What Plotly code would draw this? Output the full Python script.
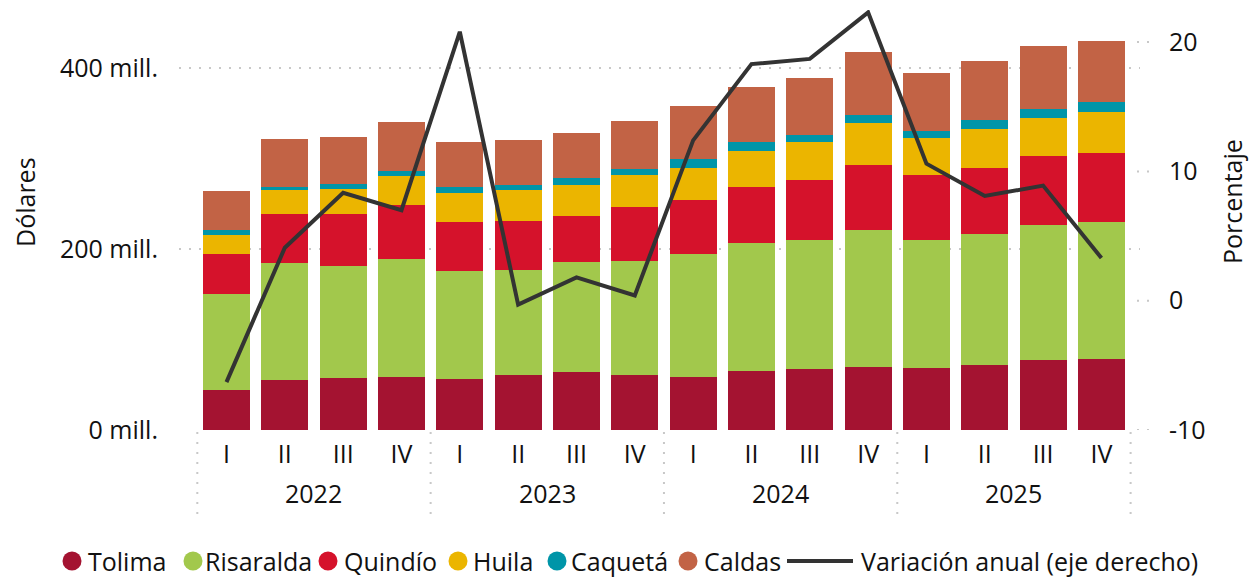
import plotly.graph_objects as go

# Quarterly exports by department (millions of dollars) and annual variation (%)
quarters = ["I", "II", "III", "IV"] * 4
years = ["2022", "2023", "2024", "2025"]

tolima = [43.7, 55.8, 58.0, 59.1, 56.9, 60.3, 63.6, 60.3, 59.1, 64.7, 66.9, 70.2, 69.1, 72.4, 77.9, 79.0]
risaralda = [107.2, 128.3, 122.8, 130.5, 119.4, 117.1, 121.6, 127.1, 136.0, 141.5, 143.7, 150.4, 141.5, 144.8, 149.3, 151.5]
quindio = [44.2, 54.2, 57.5, 59.7, 54.2, 54.2, 51.9, 59.7, 59.7, 63.0, 66.3, 72.9, 70.8, 73.0, 75.2, 75.2]
huila = [21.0, 26.5, 28.6, 31.0, 31.0, 33.2, 34.3, 34.3, 35.4, 39.8, 42.0, 45.4, 40.9, 43.1, 43.1, 46.4]
caqueta = [4.8, 4.4, 5.4, 5.5, 7.7, 6.6, 6.7, 7.7, 8.9, 8.9, 7.8, 9.9, 8.8, 8.9, 9.9, 10.0]
caldas = [42.8, 52.0, 51.1, 54.2, 49.7, 48.7, 50.8, 52.0, 58.6, 60.8, 63.0, 68.6, 64.1, 66.3, 68.6, 68.5]
variacion = [-6.3, 4.1, 8.35, 7.0, 20.8, -0.3, 1.8, 0.4, 12.4, 18.3, 18.7, 22.3, 10.6, 8.1, 8.9, 3.3]

left_ticks = [0, 200, 400]
left_ticktext = ["0 mill.", "200 mill.", "400 mill."]
right_ticks = [-10, 0, 10, 20]
right_ticktext = ["-10", "0", "10", "20"]

series = [
    ("Tolima", tolima, "#A41331"),
    ("Risaralda", risaralda, "#A2C84C"),
    ("Quindío", quindio, "#D5122B"),
    ("Huila", huila, "#EBB500"),
    ("Caquetá", caqueta, "#0095A8"),
    ("Caldas", caldas, "#C26345"),
]
line_name = "Variación anual (eje derecho)"
line_color = "#333333"

FONT = "Open Sans"
TXT = "#111111"
FS = 25

W, H = 1250, 577
ML, MR, MT, MB = 179, 110, 10, 147
PW, PH = W - ML - MR, H - MT - MB


def px_x(p):
    return (p - ML) / PW


def px_y(p):
    return (H - MB - p) / PH


x = list(range(len(quarters)))

fig = go.Figure()
for name, vals, color in series:
    fig.add_trace(go.Bar(x=x, y=vals, name=name, marker=dict(color=color, line=dict(width=0)),
                         showlegend=False, yaxis="y"))

fig.add_trace(go.Scatter(x=x, y=variacion, name=line_name, mode="lines",
                         line=dict(color=line_color, width=4), yaxis="y2", showlegend=False))

shapes = []
annotations = []

# year separators under the category axis
for b in [-0.5, 3.5, 7.5, 11.5, 15.5]:
    shapes.append(dict(type="line", xref="x", yref="paper", x0=b, x1=b,
                       y0=px_y(432), y1=px_y(516),
                       line=dict(color="#c8c8c8", width=2, dash="2px,8px")))

# year labels
for i, yr in enumerate(years):
    annotations.append(dict(x=4 * i + 1.5, y=px_y(493), xref="x", yref="paper", text=yr,
                            showarrow=False, xanchor="center", yanchor="middle",
                            font=dict(family=FONT, size=FS, color=TXT)))

# short dotted ticks on the right axis
for v in right_ticks:
    shapes.append(dict(type="line", xref="paper", yref="y2", x0=px_x(1137), x1=px_x(1150),
                       y0=v, y1=v, line=dict(color="#c8c8c8", width=2, dash="2px,8px")))

# axis titles
annotations.append(dict(x=px_x(25), y=px_y(202), xref="paper", yref="paper", text="Dólares",
                        textangle=-90, showarrow=False, xanchor="center", yanchor="middle",
                        font=dict(family=FONT, size=FS, color=TXT)))
annotations.append(dict(x=px_x(1232), y=px_y(202), xref="paper", yref="paper", text="Porcentaje",
                        textangle=-90, showarrow=False, xanchor="center", yanchor="middle",
                        font=dict(family=FONT, size=FS, color=TXT)))

# legend
leg_y = px_y(561)
circle_cx = [72, 193, 328, 458, 557, 688]
text_x = [86, 203, 342, 471, 569, 702]
for (name, _, color), cx, tx in zip(series, circle_cx, text_x):
    shapes.append(dict(type="circle", xref="paper", yref="paper", xsizemode="pixel", ysizemode="pixel",
                       xanchor=px_x(cx), yanchor=leg_y, x0=-9.5, x1=9.5, y0=-9.5, y1=9.5,
                       fillcolor=color, line=dict(width=0)))
    annotations.append(dict(x=px_x(tx), y=leg_y, xref="paper", yref="paper", text=name,
                            showarrow=False, xanchor="left", yanchor="middle",
                            font=dict(family=FONT, size=FS, color=TXT)))
shapes.append(dict(type="line", xref="paper", yref="paper", x0=px_x(787), x1=px_x(853),
                   y0=leg_y, y1=leg_y, line=dict(color=line_color, width=4)))
annotations.append(dict(x=px_x(859), y=leg_y, xref="paper", yref="paper", text=line_name,
                        showarrow=False, xanchor="left", yanchor="middle",
                        font=dict(family=FONT, size=FS, color=TXT)))

fig.update_layout(
    width=W, height=H,
    margin=dict(l=ML, r=MR, t=MT, b=MB),
    barmode="stack", bargap=0.194,
    plot_bgcolor="white", paper_bgcolor="white",
    font=dict(family=FONT, size=FS, color=TXT),
    xaxis=dict(range=[-0.814, 15.661], tickvals=x, ticktext=quarters, showgrid=False,
               zeroline=False, showline=False, ticks="", ticklabelstandoff=7,
               tickfont=dict(family=FONT, size=FS, color=TXT)),
    yaxis=dict(range=[0, PH / 0.9045], tickvals=left_ticks, ticktext=left_ticktext,
               showgrid=True, gridcolor="#c8c8c8", gridwidth=2, griddash="2px,8px",
               zeroline=False, showline=False, ticks="", ticklabelstandoff=20,
               tickfont=dict(family=FONT, size=FS, color=TXT)),
    yaxis2=dict(range=[-10, -10 + PH / 12.93], tickvals=right_ticks, ticktext=right_ticktext,
                overlaying="y", side="right",
                showgrid=False, zeroline=False, showline=False, ticks="", ticklabelstandoff=28,
                tickfont=dict(family=FONT, size=FS, color=TXT)),
    shapes=shapes, annotations=annotations, showlegend=False,
)

fig.write_html("out.html", config={"displayModeBar": False})
